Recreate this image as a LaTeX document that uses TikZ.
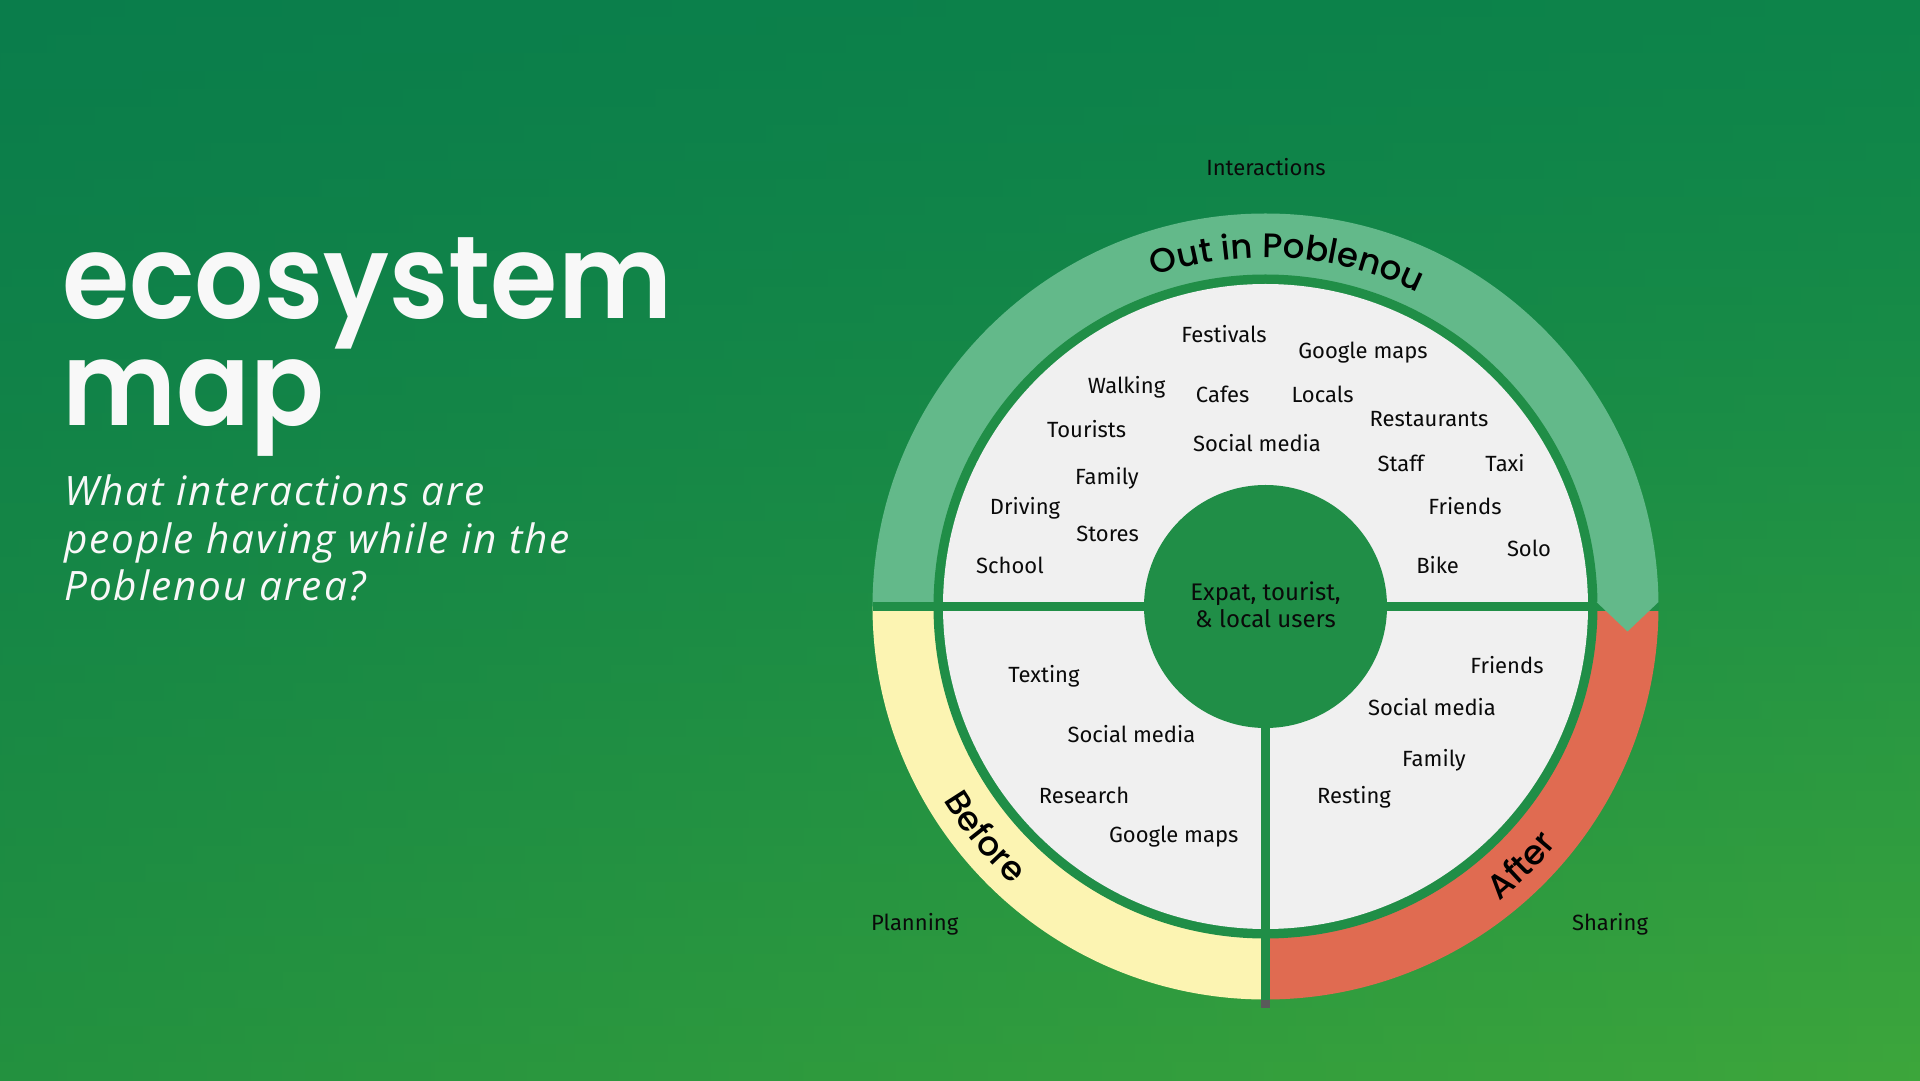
\documentclass[tikz,border=0pt]{standalone}
\usepackage{fontspec}
\usetikzlibrary{decorations.text,calc}
\setmainfont{Fira Sans}
\IfFontExistsTF{Poppins SemiBold}
  {\newfontfamily\headfont{Poppins SemiBold}[FakeStretch=0.93]\newcommand\headweight{}}
  {\newfontfamily\headfont{Poppins}[FakeStretch=0.93]\newcommand\headweight{\bfseries}}
\IfFontExistsTF{Poppins Medium}
  {\newfontfamily\bandface{Poppins Medium}\newcommand\bandweight{}}
  {\newfontfamily\bandface{Poppins}\newcommand\bandweight{\bfseries}}
\newfontfamily\subfont{Open Sans}[LetterSpace=4.8]

\definecolor{bgTL}{HTML}{0A7D4B}
\definecolor{bgTR}{HTML}{0D844A}
\definecolor{bgBL}{HTML}{23913F}
\definecolor{bgBR}{HTML}{3DA63B}
\definecolor{ringgreen}{HTML}{208E47}
\definecolor{bandgreen}{HTML}{63B98A}
\definecolor{bandyellow}{HTML}{FCF4B2}
\definecolor{bandred}{HTML}{E06B51}
\definecolor{innergray}{HTML}{F0F0F0}
\definecolor{stubgray}{HTML}{5A5A5A}
\definecolor{titlewhite}{HTML}{F8F8F8}
\definecolor{ink}{HTML}{0A0A0A}

\newcommand\bandfont{\bandface\bandweight\fontsize{34}{40}\selectfont}

\begin{document}
\begin{tikzpicture}[x=1pt,y=1pt,
  lbl/.style={font=\fontsize{22}{26}\selectfont, text=ink, anchor=base, inner sep=0pt, yshift=-7.5pt},
  hublbl/.style={font=\fontsize{24}{28}\selectfont, text=ink, anchor=base, inner sep=0pt},
  titletext/.style={font=\headfont\headweight\fontsize{117}{117}\selectfont, text=titlewhite, anchor=base west, inner sep=0pt},
  subtext/.style={font=\subfont\itshape\fontsize{40.5}{48}\selectfont, text=titlewhite, anchor=base west, inner sep=0pt},
  bandtext/.style={decorate, decoration={text along path, text align=center, text={|\bandfont|#1}}}
]
\useasboundingbox (0,0) rectangle (1920,1080);

% background: four-corner gradient built from thin horizontal strips
\foreach \i in {0,...,59} {
  \pgfmathsetmacro\p{100*((\i+0.5)/60)^1.3}
  \colorlet{lc}{bgBL!\p!bgTL}
  \colorlet{rc}{bgBR!\p!bgTR}
  \shade[left color=lc, right color=rc] (0,{1080-18*\i}) rectangle (1920,{1080-18*(\i+1)-1});
}

% title block
\node[titletext] (title1) at (62,761) {ecosystem};
\node[titletext] (title2) at (62,654) {map};
\node[subtext] (sub1) at (64,574.5) {What interactions are};
\node[subtext] (sub2) at (64,526.5) {people having while in the};
\node[subtext] (sub3) at (64,479) {Poblenou area?};

% ring of phases
\coordinate (C) at (1265.5,473.5);
\fill[bandgreen] ($(C)+(393,0)$) arc[start angle=0, end angle=180, radius=393] -- cycle;
\fill[bandyellow] (C) -- ($(C)+(180:393)$) arc[start angle=180, end angle=270, radius=393] -- cycle;
\fill[bandred] (C) -- ($(C)+(270:393)$) arc[start angle=270, end angle=360, radius=393] -- cycle;
\fill[ringgreen] (C) circle[radius=332];
\fill[innergray] (C) circle[radius=322.5];

% dividers
\fill[ringgreen] ($(C)+(-393,-4.5)$) rectangle ($(C)+(393,4.5)$);
\fill[ringgreen] ($(C)+(-4.5,0)$) rectangle ($(C)+(4.5,-393.5)$);
\fill[stubgray] ($(C)+(-4.5,-393.5)$) rectangle ($(C)+(4.5,-401.5)$);

% arrow point of the top band
\fill[bandgreen] ($(C)+(331,4.5)$) -- ($(C)+(393,4.5)$) -- ($(C)+(362,-25)$) -- cycle;

% hub
\fill[ringgreen] (C) circle[radius=121.5];
\node[hublbl] (hub1) at (1265.5,479) {Expat, tourist,};
\node[hublbl] (hub2) at (1265.5,452.3) {\& local users};

% band titles
\path[bandtext={Out in Poblenou}] ($(C)+(146.4:349)$) arc[start angle=146.4, end angle=26.4, radius=349];
\path[bandtext={Before}] ($(C)+(189.4:376)$) arc[start angle=189.4, end angle=249.4, radius=376];
\path[bandtext={After}] ($(C)+(284.6:376)$) arc[start angle=284.6, end angle=344.6, radius=376];

% phase captions
\node[lbl] (interactions) at (1266,912) {Interactions};
\node[lbl] (planning) at (914.7,157) {Planning};
\node[lbl] (sharing) at (1610,157) {Sharing};

% during
\node[lbl] (festivals) at (1224,744.5) {Festivals};
\node[lbl] (gmapsA) at (1363,729) {Google maps};
\node[lbl] (walking) at (1126.5,694) {Walking};
\node[lbl] (cafes) at (1222.7,684.5) {Cafes};
\node[lbl] (locals) at (1322.5,684.5) {Locals};
\node[lbl] (restaurants) at (1429,661) {Restaurants};
\node[lbl] (tourists) at (1086.7,650) {Tourists};
\node[lbl] (socialA) at (1257,635.5) {Social media};
\node[lbl] (staff) at (1400.8,616) {Staff};
\node[lbl] (taxi) at (1505,616) {Taxi};
\node[lbl] (familyA) at (1107,602.5) {Family};
\node[lbl] (driving) at (1025,573) {Driving};
\node[lbl] (friendsA) at (1465,573) {Friends};
\node[lbl] (stores) at (1107.6,546) {Stores};
\node[lbl] (solo) at (1529,531.4) {Solo};
\node[lbl] (school) at (1010,514) {School};
\node[lbl] (bike) at (1437.6,514) {Bike};

% before
\node[lbl] (texting) at (1044,405) {Texting};
\node[lbl] (socialB) at (1131.4,345) {Social media};
\node[lbl] (research) at (1084,284) {Research};
\node[lbl] (gmapsB) at (1173.7,245) {Google maps};

% after
\node[lbl] (friendsC) at (1507,414) {Friends};
\node[lbl] (socialC) at (1432,372) {Social media};
\node[lbl] (familyC) at (1434,321) {Family};
\node[lbl] (resting) at (1354,284) {Resting};
\end{tikzpicture}
\end{document}
